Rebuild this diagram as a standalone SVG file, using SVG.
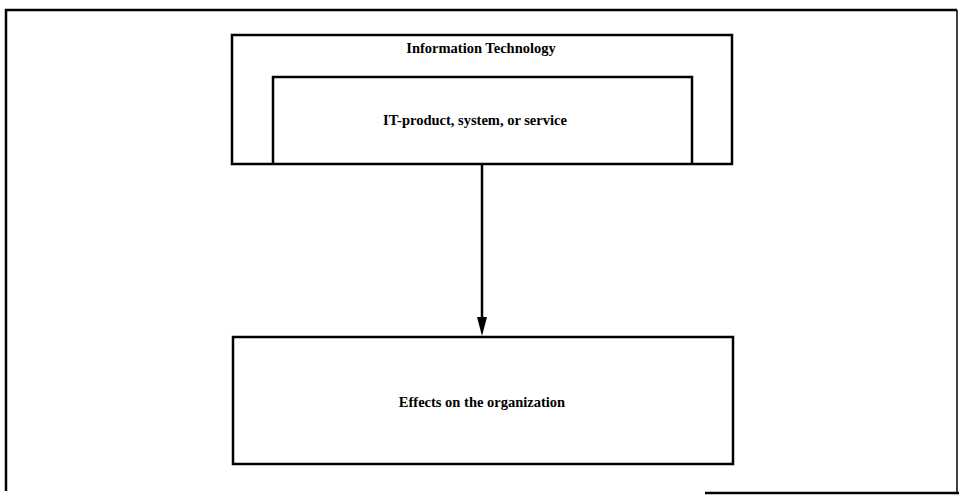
<svg xmlns="http://www.w3.org/2000/svg" width="959" height="495" viewBox="0 0 959 495">
<style>
.box{fill:none;stroke:#000;stroke-width:2.5}
.lbl{font-family:"Liberation Serif",serif;font-weight:bold;font-size:14.5px;fill:#000;text-anchor:middle}
</style>
<rect width="959" height="495" fill="#fff"/>
<g id="frame">
<path d="M6,491 L6,10 L957,10" fill="none" stroke="#000" stroke-width="2.5"/>
<path d="M957,10 L957,493" fill="none" stroke="#000" stroke-width="1.5"/>
<path d="M705,493 L959,493" fill="none" stroke="#000" stroke-width="2.5"/>
</g>
<g id="it">
<rect class="box" x="232" y="35" width="500" height="129"/>
<text class="lbl" x="481" y="53">Information Technology</text>
</g>
<g id="product">
<path class="box" d="M273,164 L273,77 L692,77 L692,164"/>
<text class="lbl" x="475" y="125">IT-product, system, or service</text>
</g>
<g id="effects">
<rect class="box" x="233" y="337" width="500" height="127"/>
<text class="lbl" x="482" y="407">Effects on the organization</text>
</g>
<g id="connectors">
<line x1="482" y1="165" x2="482" y2="318" stroke="#000" stroke-width="2.5"/>
<path d="M477,317 L487,317 L482,336 Z" fill="#000"/>
</g>
</svg>
